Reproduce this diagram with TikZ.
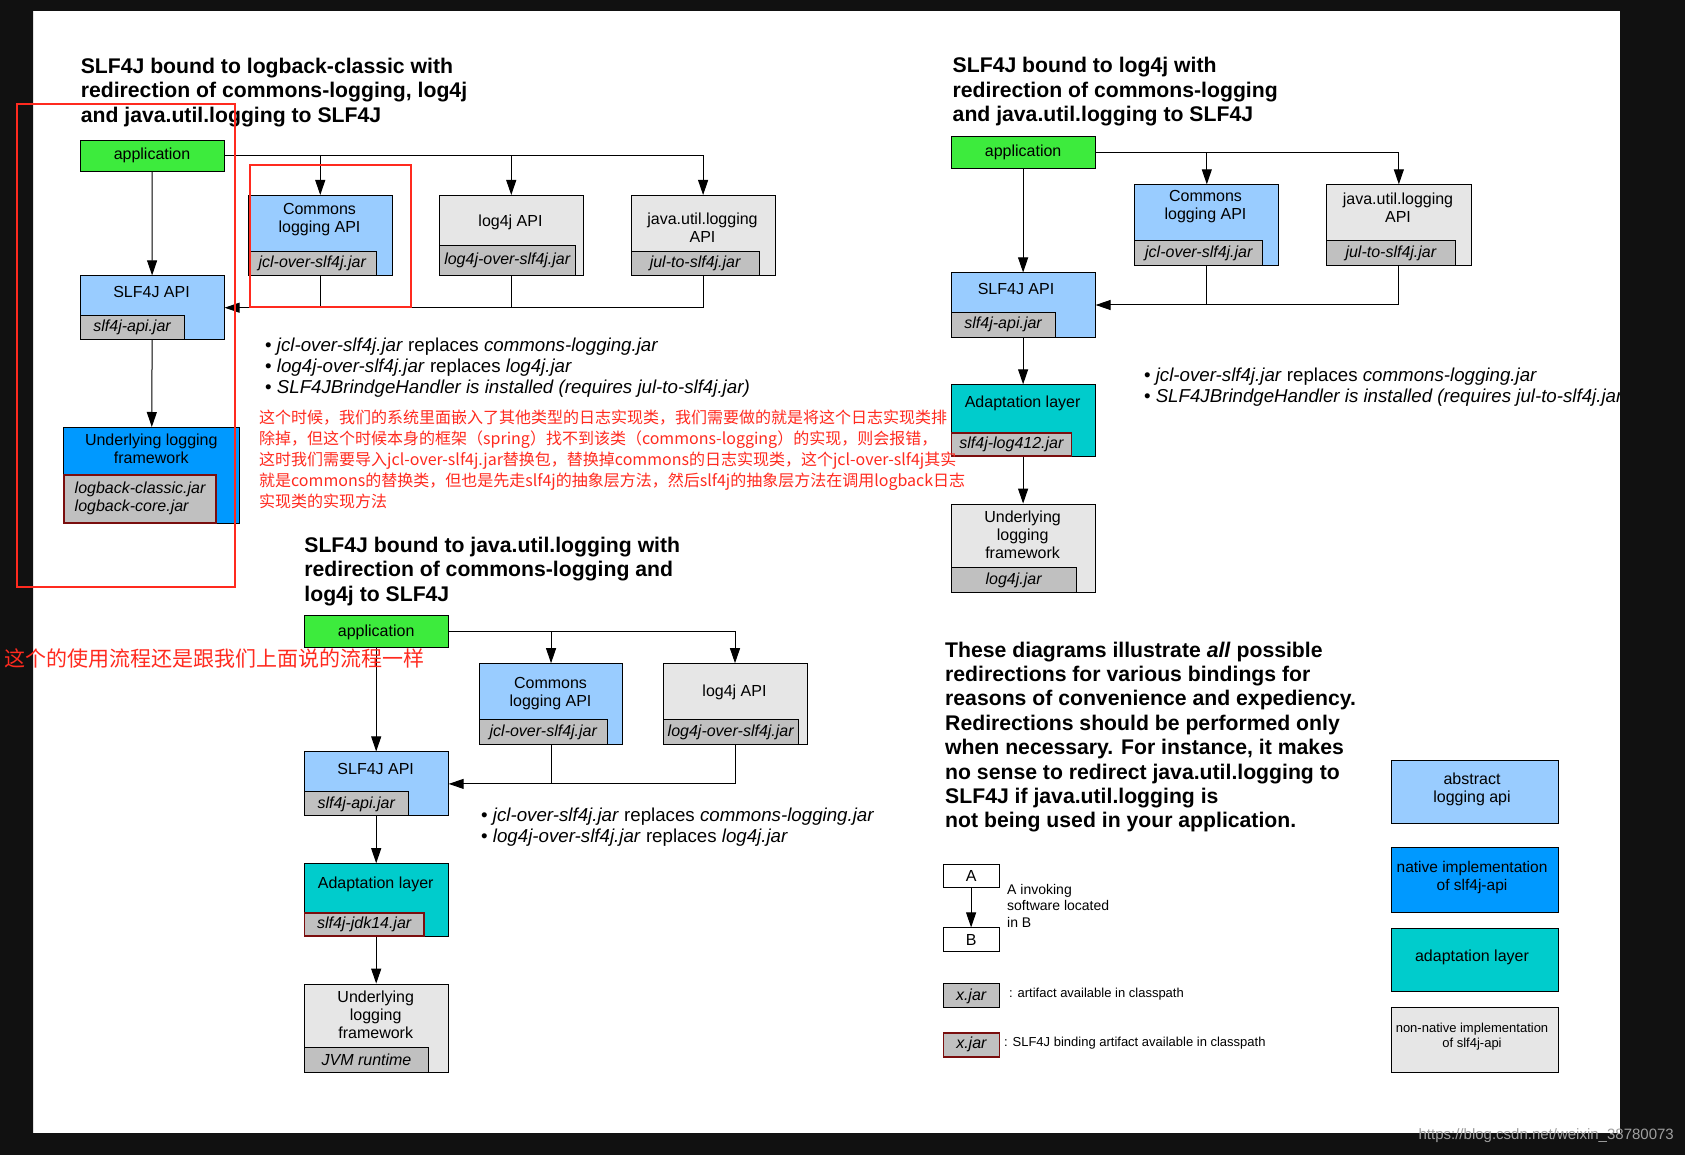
\documentclass[tikz,border=0pt]{standalone}
\usepackage{fontspec}
\setmainfont{Liberation Sans}
\newfontfamily\cjk{Noto Sans CJK SC}
\usetikzlibrary{arrows.meta}
\definecolor{appgreen}{HTML}{3DEB3D}
\definecolor{apiblue}{HTML}{99CCFF}
\definecolor{natblue}{HTML}{0099FF}
\definecolor{adaptcyan}{HTML}{00CCCC}
\definecolor{nngray}{HTML}{E6E6E6}
\definecolor{jargray}{HTML}{C0C0C0}
\definecolor{bindred}{HTML}{7A0E0E}
\definecolor{notered}{HTML}{FF2A1F}
\definecolor{bgdark}{HTML}{111111}
\begin{document}
\begin{tikzpicture}[x=1pt,y=-1pt,
 box/.style={draw,line width=1pt,anchor=north west,inner sep=0pt},
 jar/.style={draw,line width=1pt,fill=jargray,anchor=south west,inner sep=0pt,font=\fontsize{16}{18}\selectfont\itshape},
 binding/.style={jar,draw=bindred,line width=1.6pt},
 boxtext/.style={align=center,inner sep=0pt,font=\fontsize{16}{18}\selectfont},
 conn/.style={line width=1pt},
 arr/.style={conn,-{Triangle[length=15pt,width=10pt]}},
 heading/.style={anchor=west,align=left,inner sep=0pt,font=\fontsize{21.2}{24.6}\selectfont\bfseries},
 bullets/.style={anchor=west,align=left,inner sep=0pt,font=\fontsize{18.7}{21}\selectfont},
 note/.style={anchor=west,align=left,inner sep=0pt,text=notered,font=\cjk\fontsize{16}{21}\selectfont},
 small/.style={anchor=west,align=left,inner sep=0pt,font=\fontsize{13}{15}\selectfont},
 redmark/.style={draw=notered,line width=2.7pt}]
 \useasboundingbox (0,0) rectangle (1685,1155);
 \fill[white] (33,11) rectangle (1620,1133);

 \node[heading] (title1) at (80.6,92.2) {SLF4J bound to logback-classic with\\redirection of commons-logging, log4j\\and java.util.logging to SLF4J};
 \node[box,fill=appgreen,minimum width=144,minimum height=31] (app1) at (79.5,139.7) {};
 \node[boxtext] (app1t) at (app1) {application};
 \node[box,fill=apiblue,minimum width=143.5,minimum height=80] (cl1) at (248,195) {};
 \node[boxtext] (cl1t) at (319.5,219.6) {Commons\\logging API};
 \node[jar,minimum width=127.5,minimum height=24] (cl1j) at (cl1.south west) {jcl-over-slf4j.jar};
 \node[box,fill=nngray,minimum width=143.5,minimum height=80] (l4j1) at (439,195) {};
 \node[boxtext] (l4j1t) at (510.5,222.5) {log4j API};
 \node[jar,minimum width=135.5,minimum height=30] (l4j1j) at (l4j1.south west) {log4j-over-slf4j.jar};
 \node[box,fill=nngray,minimum width=144,minimum height=80] (jul1) at (630.6,195) {};
 \node[boxtext] (jul1t) at (702.5,227.5) {java.util.logging\\API};
 \node[jar,minimum width=128,minimum height=24] (jul1j) at (jul1.south west) {jul-to-slf4j.jar};
 \node[box,fill=apiblue,minimum width=144,minimum height=63.6] (slf1) at (79.6,275.4) {};
 \node[boxtext] (slf1t) at (151.5,292) {SLF4J API};
 \node[jar,minimum width=104,minimum height=24] (slf1j) at (slf1.south west) {slf4j-api.jar};
 \node[box,fill=natblue,minimum width=176,minimum height=95.5] (und1) at (63.3,427) {};
 \node[boxtext] (und1t) at (151.3,449) {Underlying logging\\framework};
 \node[binding,align=left,minimum width=152,minimum height=48] (und1j) at (und1.south west) {logback-classic.jar\\logback-core.jar};
 \draw[arr] (app1.south) -- (slf1.north);
 \draw[arr] (slf1.south) -- (und1.north);
 \draw[arr] (app1.east) -| (jul1.north);
 \draw[arr] (app1.east -| cl1.north) -- (cl1.north);
 \draw[arr] (app1.east -| l4j1.north) -- (l4j1.north);
 \draw[arr] (jul1.south) |- (slf1.east);
 \draw[conn] (cl1.south) -- (cl1.south |- slf1.east);
 \draw[conn] (l4j1.south) -- (l4j1.south |- slf1.east);
 \node[bullets] (bul1) at (265,367.5) {\textbullet{} \textit{jcl-over-slf4j.jar} replaces \textit{commons-logging.jar}\\\textbullet{} \textit{log4j-over-slf4j.jar} replaces \textit{log4j.jar}\\\textbullet{} \textit{SLF4JBrindgeHandler is installed (requires jul-to-slf4j.jar)}};

 \node[heading] (title2) at (952.5,91.8) {SLF4J bound to log4j with\\redirection of commons-logging\\and java.util.logging to SLF4J};
 \node[box,fill=appgreen,minimum width=144,minimum height=31.8] (app2) at (950.6,136.4) {};
 \node[boxtext] (app2t) at (app2) {application};
 \node[box,fill=apiblue,minimum width=144,minimum height=80.3] (cl2) at (1134.3,184.3) {};
 \node[boxtext] (cl2t) at (1205.5,206.4) {Commons\\logging API};
 \node[jar,minimum width=128,minimum height=24.2] (cl2j) at (cl2.south west) {jcl-over-slf4j.jar};
 \node[box,fill=nngray,minimum width=144.7,minimum height=80.3] (jul2) at (1326,184.3) {};
 \node[boxtext] (jul2t) at (1398,208.2) {java.util.logging\\API};
 \node[jar,minimum width=128.7,minimum height=24.2] (jul2j) at (jul2.south west) {jul-to-slf4j.jar};
 \node[box,fill=apiblue,minimum width=144,minimum height=64] (slf2) at (950.6,272.5) {};
 \node[boxtext] (slf2t) at (1016,288.9) {SLF4J API};
 \node[jar,minimum width=104,minimum height=24.4] (slf2j) at (slf2.south west) {slf4j-api.jar};
 \node[box,fill=adaptcyan,minimum width=144,minimum height=71.4] (ada2) at (950.6,384.3) {};
 \node[boxtext] (ada2t) at (1022.6,403.6) {Adaptation layer};
 \node[binding,minimum width=120,minimum height=22.8] (ada2j) at (ada2.south west) {slf4j-log412.jar};
 \node[box,fill=nngray,minimum width=144,minimum height=88.2] (und2) at (950.6,503.6) {};
 \node[boxtext] (und2t) at (1022.6,534.8) {Underlying\\logging\\framework};
 \node[jar,minimum width=125,minimum height=24.8] (und2j) at (und2.south west) {log4j.jar};
 \draw[arr] (app2.south) -- (slf2.north);
 \draw[arr] (slf2.south) -- (ada2.north);
 \draw[arr] (ada2.south) -- (und2.north);
 \draw[arr] (app2.east) -| (jul2.north);
 \draw[arr] (app2.east -| cl2.north) -- (cl2.north);
 \draw[arr] (jul2.south) |- (slf2.east);
 \draw[conn] (cl2.south) -- (cl2.south |- slf2.east);
 \node[bullets] (bul2) at (1143.8,386.8) {\textbullet{} \textit{jcl-over-slf4j.jar} replaces \textit{commons-logging.jar}\\\textbullet{} \textit{SLF4JBrindgeHandler is installed (requires jul-to-slf4j.jar)}};

 \node[heading] (title3) at (304.2,571.4) {SLF4J bound to java.util.logging with\\redirection of commons-logging and\\log4j to SLF4J};
 \node[box,fill=appgreen,minimum width=144,minimum height=32] (app3) at (303.7,615.4) {};
 \node[boxtext] (app3t) at (app3) {application};
 \node[box,fill=apiblue,minimum width=143.5,minimum height=80.4] (cl3) at (478.8,663.2) {};
 \node[boxtext] (cl3t) at (550.5,693.6) {Commons\\logging API};
 \node[jar,minimum width=128,minimum height=24.3] (cl3j) at (cl3.south west) {jcl-over-slf4j.jar};
 \node[box,fill=nngray,minimum width=144,minimum height=80.4] (l4j3) at (662.5,663.2) {};
 \node[boxtext] (l4j3t) at (734.5,692.5) {log4j API};
 \node[jar,minimum width=135.4,minimum height=24.3] (l4j3j) at (l4j3.south west) {log4j-over-slf4j.jar};
 \node[box,fill=apiblue,minimum width=144,minimum height=64] (slf3) at (303.7,751.4) {};
 \node[boxtext] (slf3t) at (375.7,768.9) {SLF4J API};
 \node[jar,minimum width=104,minimum height=24] (slf3j) at (slf3.south west) {slf4j-api.jar};
 \node[box,fill=adaptcyan,minimum width=144,minimum height=72.5] (ada3) at (303.7,863.2) {};
 \node[boxtext] (ada3t) at (375.7,884.3) {Adaptation layer};
 \node[binding,minimum width=119.3,minimum height=23.2] (ada3j) at (ada3.south west) {slf4j-jdk14.jar};
 \node[box,fill=nngray,minimum width=144,minimum height=88.2] (und3) at (303.7,983.6) {};
 \node[boxtext] (und3t) at (375.7,1014.4) {Underlying\\logging\\framework};
 \node[jar,minimum width=124.6,minimum height=24.8] (und3j) at (und3.south west) {JVM runtime};
 \draw[arr] (app3.south) -- (slf3.north);
 \draw[arr] (slf3.south) -- (ada3.north);
 \draw[arr] (ada3.south) -- (und3.north);
 \draw[arr] (app3.east) -| (l4j3.north);
 \draw[arr] (app3.east -| cl3.north) -- (cl3.north);
 \draw[arr] (l4j3.south) |- (slf3.east);
 \draw[conn] (cl3.south) -- (cl3.south |- slf3.east);
 \node[bullets] (bul3) at (481,827.6) {\textbullet{} \textit{jcl-over-slf4j.jar} replaces \textit{commons-logging.jar}\\\textbullet{} \textit{log4j-over-slf4j.jar} replaces \textit{log4j.jar}};

 \node[heading,font=\fontsize{21.2}{24.4}\selectfont\bfseries] (para) at (945,737) {These diagrams illustrate \textit{all} possible\\redirections for various bindings for\\reasons of convenience and expediency.\\Redirections should be performed only\\when necessary. For instance, it makes\\no sense to redirect java.util.logging to\\SLF4J if java.util.logging is\\not being used in your application.};
 \node[box,fill=white,minimum width=56,minimum height=23.7,font=\fontsize{16}{18}\selectfont] (keya) at (942.6,863.7) {A};
 \node[box,fill=white,minimum width=56,minimum height=24,font=\fontsize{16}{18}\selectfont] (keyb) at (942.6,927.4) {B};
 \draw[arr] (keya.south) -- (keyb.north);
 \node[small,font=\fontsize{14}{16.5}\selectfont] (keyab) at (1007,905.8) {A invoking\\software located\\in B};
 \node[jar,anchor=north west,minimum width=56,minimum height=24] (keyjar) at (942.6,983.4) {x.jar};
 \node[small] (keyjart) at (1009,994.5) {: artifact available in classpath};
 \node[binding,anchor=north west,minimum width=56,minimum height=24] (keybind) at (942.6,1031.9) {x.jar};
 \node[small] (keybindt) at (1004,1043) {: SLF4J binding artifact available in classpath};
 \node[box,fill=apiblue,minimum width=167.7,minimum height=63.8] (leg1) at (1390.6,759.6) {};
 \node[boxtext] (leg1t) at (1472,789.7) {abstract\\logging api};
 \node[box,fill=natblue,minimum width=167.7,minimum height=64.1] (leg2) at (1390.6,847.4) {};
 \node[boxtext,font=\fontsize{15.5}{18}\selectfont] (leg2t) at (1472,877.8) {native implementation\\of slf4j-api};
 \node[box,fill=adaptcyan,minimum width=167.7,minimum height=63.4] (leg3) at (1390.6,927.8) {};
 \node[boxtext] (leg3t) at (1472,957) {adaptation layer};
 \node[box,fill=nngray,minimum width=167.7,minimum height=64.1] (leg4) at (1390.6,1007.4) {};
 \node[boxtext,font=\fontsize{13}{15}\selectfont] (leg4t) at (1472,1037) {non-native implementation\\of slf4j-api};

 \node[note] (note1) at (259,459) {这个时候，我们的系统里面嵌入了其他类型的日志实现类，我们需要做的就是将这个日志实现类排\\除掉，但这个时候本身的框架（spring）找不到该类（commons-logging）的实现，则会报错，\\这时我们需要导入jcl-over-slf4j.jar替换包，替换掉commons的日志实现类，这个jcl-over-slf4j其实\\就是commons的替换类，但也是先走slf4j的抽象层方法，然后slf4j的抽象层方法在调用logback日志\\实现类的实现方法};
 \draw[redmark] (250,165) rectangle (411,307);

 \fill[bgdark,even odd rule] (0,0) rectangle (1685,1155) (33,11) rectangle (1620,1133);
 \draw[redmark] (17,104) rectangle (235,587);
 \node[note,font=\cjk\fontsize{21}{24}\selectfont] (note2) at (4.6,658.6) {这个的使用流程还是跟我们上面说的流程一样};
 \node[anchor=east,inner sep=0pt,text=gray!75,font=\fontsize{15}{17}\selectfont] (url) at (1674,1136) {https://blog.csdn.net/weixin\_38780073};
\end{tikzpicture}
\end{document}
